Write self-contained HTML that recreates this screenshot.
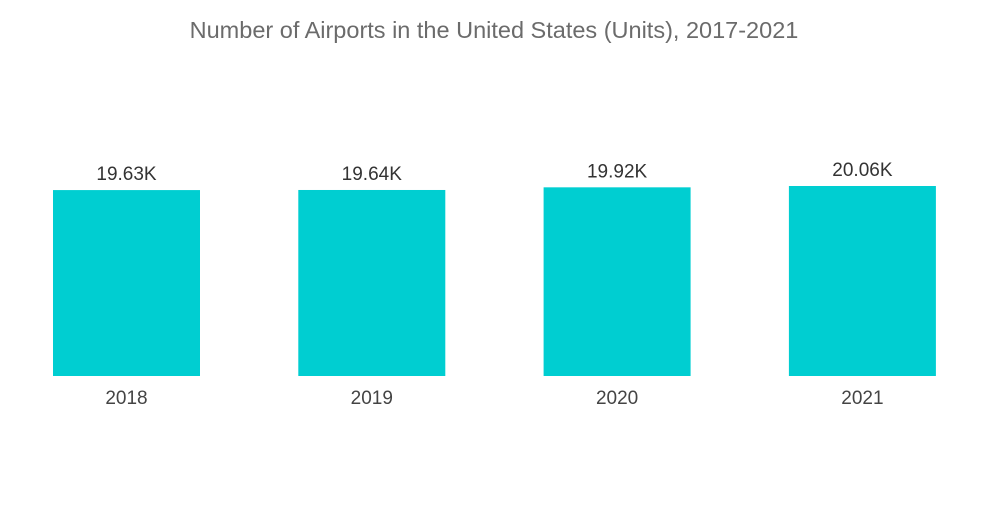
<!DOCTYPE html>
<html><head><meta charset="utf-8"><style>
body{margin:0;background:#fff;width:1000px;height:504px;overflow:hidden;font-family:"Liberation Sans",sans-serif;}
</style></head><body>
<svg id="chart" width="1000" height="504" xmlns="http://www.w3.org/2000/svg">
<text x="494" y="38" text-anchor="middle" font-size="23.5" fill="#6b6b6b" font-family="Liberation Sans, sans-serif">Number of Airports in the United States (Units), 2017-2021</text>
<g id="bars"></g>
</svg>
<script>
const categories = ["2018","2019","2020","2021"];
const values = [19630,19640,19920,20060];
const valueLabels = ["19.63K","19.64K","19.92K","20.06K"];
const baseline = 376, plotLeft = 53, slot = 245.3, barW = 147;
function y(v){ return baseline - v * (190/20060); }
function x(i){ return plotLeft + i*slot; }
const g = document.getElementById('bars');
const ns = "http://www.w3.org/2000/svg";
categories.forEach((c,i)=>{
  const r = document.createElementNS(ns,'rect');
  
  
  r.setAttribute('x',x(i)); r.setAttribute('y',y(values[i]));
  r.setAttribute('width',barW); r.setAttribute('height',baseline-y(values[i]));
  r.setAttribute('fill','#00ced1');
  g.appendChild(r);
  const t = document.createElementNS(ns,'text');
  
  
  t.setAttribute('x',x(i)+barW/2); t.setAttribute('y',y(values[i])-10);
  t.setAttribute('text-anchor','middle'); t.setAttribute('font-size','19'); t.setAttribute('fill','#333');
  t.textContent = valueLabels[i];
  g.appendChild(t);
  const l = document.createElementNS(ns,'text');
  
  
  l.setAttribute('x',x(i)+barW/2); l.setAttribute('y',404);
  l.setAttribute('text-anchor','middle'); l.setAttribute('font-size','19'); l.setAttribute('fill','#444');
  l.textContent = c;
  g.appendChild(l);
});
</script>
</body></html>
